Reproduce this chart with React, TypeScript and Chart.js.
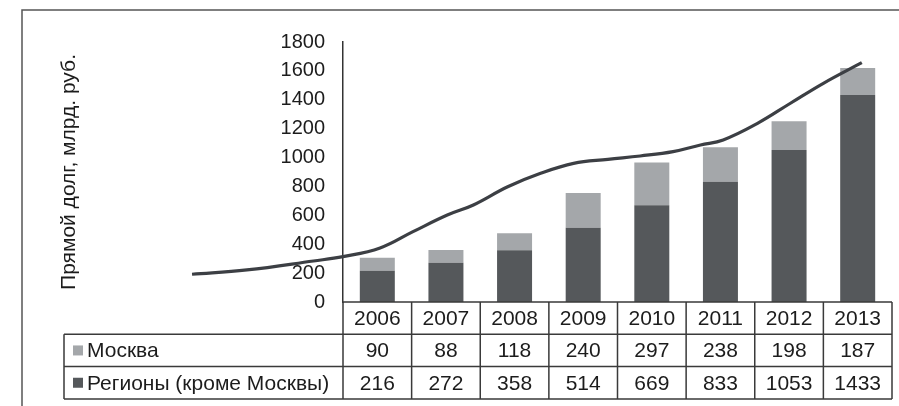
import React, { useEffect, useRef } from "react";
import { Chart, registerables } from "chart.js";

Chart.register(...registerables);

// ---- data ----
const years = ["2006", "2007", "2008", "2009", "2010", "2011", "2012", "2013"];
const moscow = [90, 88, 118, 240, 297, 238, 198, 187];
const regions = [216, 272, 358, 514, 669, 833, 1053, 1433];
const seriesNames = ["Москва", "Регионы (кроме Москвы)"];
const yAxisTitle = "Прямой долг, млрд. руб.";
const yMin = 0;
const yMax = 1800;
const yStep = 200;
// trend curve (x in category units, 0 = 2006)
const trendX = [-2.7, -1.9, -0.93, -0.5, 0.04, 0.52, 1.02, 1.4, 1.9, 2.38, 2.86, 3.36, 3.83, 4.31, 4.71, 5.04, 5.54, 6.02, 6.5, 7.06];
const trendY = [192, 222, 284, 314, 374, 487, 602, 672, 798, 891, 960, 988, 1011, 1041, 1087, 1122, 1237, 1376, 1514, 1657];

const FONT = "'Liberation Sans', Arial, Helvetica, sans-serif";
const TEXT = "#1c1c1c";
const LINE = "#3a3a3a";
const MOSCOW_COLOR = "#a4a7aa";
const REGIONS_COLOR = "#55585b";

const tablePlugin = {
  id: "dataTable",
  afterDraw(chart: any) {
    const ctx = chart.ctx as CanvasRenderingContext2D;
    const area = chart.chartArea;
    const n = years.length;
    const colW = (area.right - area.left) / n;
    const top = area.bottom;
    const rowH = 32.3;
    const labelLeft = 64;
    ctx.save();
    // outer frame
    ctx.strokeStyle = "#555";
    ctx.lineWidth = 1.5;
    ctx.beginPath();
    ctx.moveTo(22, 406);
    ctx.lineTo(22, 10);
    ctx.lineTo(899, 10);
    ctx.stroke();

    // table grid
    ctx.strokeStyle = LINE;
    ctx.lineWidth = 1.5;
    ctx.beginPath();
    ctx.moveTo(area.left, top);
    ctx.lineTo(area.right, top);
    for (let r = 1; r <= 3; r++) {
      ctx.moveTo(labelLeft, top + r * rowH);
      ctx.lineTo(area.right, top + r * rowH);
    }
    for (let i = 0; i <= n; i++) {
      const x = area.left + i * colW;
      ctx.moveTo(x, top);
      ctx.lineTo(x, top + 3 * rowH);
    }
    ctx.moveTo(labelLeft, top + rowH);
    ctx.lineTo(labelLeft, top + 3 * rowH);
    ctx.stroke();

    // texts
    ctx.fillStyle = TEXT;
    ctx.font = `21px ${FONT}`;
    ctx.textAlign = "center";
    ctx.textBaseline = "middle";
    const rows = [years, moscow.map(String), regions.map(String)];
    rows.forEach((row, r) => {
      const cy = top + r * rowH + rowH / 2 + 1;
      row.forEach((t, i) => {
        const cx = area.left + i * colW + colW / 2;
        ctx.fillText(t, cx, cy);
      });
    });
    // row labels with legend squares
    const colors = [MOSCOW_COLOR, REGIONS_COLOR];
    seriesNames.forEach((name, k) => {
      const cy = top + (k + 1) * rowH + rowH / 2;
      ctx.fillStyle = colors[k];
      ctx.fillRect(73, cy - 5, 10, 10);
      ctx.fillStyle = TEXT;
      ctx.textAlign = "left";
      ctx.fillText(name, 87, cy + 1);
    });
    ctx.restore();
  },
};

export default function App() {
  const ref = useRef<HTMLCanvasElement>(null);
  useEffect(() => {
    if (!ref.current) return;
    const chart = new Chart(ref.current, {
      type: "bar",
      data: {
        labels: years,
        datasets: [
          {
            type: "line",
            label: "trend",
            data: trendX.map((x, i) => ({ x, y: trendY[i] })),
            xAxisID: "x2",
            yAxisID: "y",
            stack: "trend",
            borderColor: "#3c3f44",
            borderWidth: 3.2,
            pointRadius: 0,
            tension: 0.4,
            fill: false,
            clip: false,
            order: 0,
          } as any,
          {
            label: seriesNames[1],
            data: regions,
            backgroundColor: REGIONS_COLOR,
            xAxisID: "x",
            stack: "s",
            grouped: false,
            barPercentage: 0.51,
            categoryPercentage: 1,
            order: 1,
          },
          {
            label: seriesNames[0],
            data: moscow,
            backgroundColor: MOSCOW_COLOR,
            xAxisID: "x",
            stack: "s",
            grouped: false,
            barPercentage: 0.51,
            categoryPercentage: 1,
            order: 1,
          },
        ],
      },
      options: {
        animation: false,
        responsive: true,
        maintainAspectRatio: false,
        layout: { padding: { left: 0, right: 7, top: 42, bottom: 104 } },
        plugins: { legend: { display: false }, tooltip: { enabled: false } },
        scales: {
          x: { type: "category", stacked: true, display: false, offset: true },
          x2: {
            type: "linear",
            display: false,
            offset: false,
            grid: { offset: false },
            bounds: "data",
            afterDataLimits: (s: any) => {
              s.min = -0.5;
              s.max = years.length - 0.5;
            },
          },
          y: {
            stacked: true,
            min: yMin,
            max: yMax,
            grid: { display: false },
            border: { display: true, color: "#333", width: 1.5 },
            ticks: {
              stepSize: yStep,
              padding: 10,
              color: TEXT,
              font: { family: FONT, size: 20 },
              callback: (v: any) => String(v),
            },
            title: {
              display: true,
              text: yAxisTitle,
              color: TEXT,
              font: { family: FONT, size: 21 },
              padding: { top: 57, bottom: 0 },
            },
            afterFit: (s: any) => {
              s.width = 343;
            },
          },
        },
      } as any,
      plugins: [tablePlugin],
    });
    return () => chart.destroy();
  }, []);
  return (
    <div style={{ position: "fixed", left: 0, top: 0, width: 899, height: 406, background: "#fff" }}>
      <canvas ref={ref} />
    </div>
  );
}
